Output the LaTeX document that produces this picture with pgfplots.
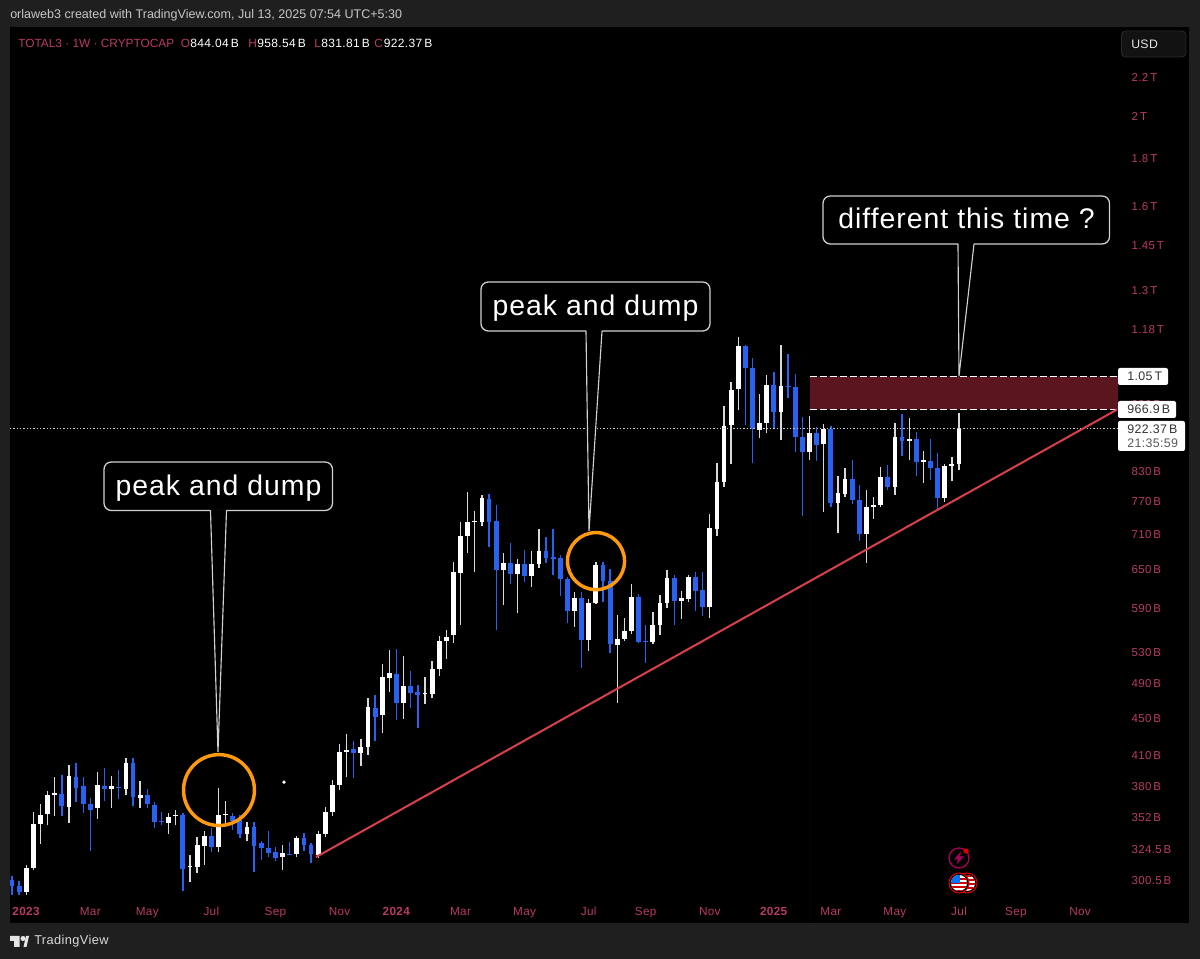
\documentclass[border=0pt]{standalone}
\usepackage{pgfplots}
\usepackage{pgfplotstable}
\usepackage{fontspec}
\setmainfont{Liberation Sans}
\newfontfamily\lsa[LetterSpace=3]{Liberation Sans}
\newfontfamily\lsb[LetterSpace=3.5]{Liberation Sans}
\pgfplotsset{compat=1.18}
\definecolor{panel}{HTML}{1F1F1F}
\definecolor{pinkt}{HTML}{B93A68}
\definecolor{candleblue}{HTML}{2962F0}
\definecolor{zone}{HTML}{5A151E}
\definecolor{trend}{HTML}{D8404C}
\definecolor{orng}{HTML}{FF9A0E}
\pgfplotstableread{
i o h l c
2 292.7 312.9 289.9 310.5
3 310.6 356.8 308.8 346.1
4 345.9 363.7 329.4 354.1
5 354.7 375.6 345 371.9
6 371.6 389.2 353 373.8
8 361 400.6 346.7 389.8
12 360 394 350.7 381.2
14 377.2 390 359.7 380
16 377.5 407.3 372.2 402.9
18 369.1 384.7 360 371.6
22 347.2 355.3 337.9 351.8
23 353.3 358.3 345 353.9
25 311.3 320.3 299.8 312
26 311 334.8 306.7 328.2
27 327.7 340.2 312.5 335.7
29 327.1 378.1 323.1 353.9
30 353.9 366.4 345.9 354.7
33 337.7 348.1 331.6 343.6
38 318.7 328.2 309 322.1
40 321.1 336.2 319.2 334.5
43 320.5 340 317.9 338
44 337.7 360.8 335.5 356.3
45 356.3 385.7 353.3 380.9
46 381.2 421.9 376.5 413.4
47 414 432.2 388.5 416
49 413 426.9 399.6 419.2
50 419.1 472.5 410.6 462.4
52 453 514.4 434 497.8
53 497 532.2 480.4 502.7
55 467.4 524.4 449.3 487.2
58 478 497.8 465.9 479.2
59 477.6 518.3 472.5 507.7
60 507.7 551.4 499.7 544.2
61 544.2 560.1 520.9 550.4
62 552.8 662 541.9 645.7
63 644.1 730.9 566.6 707
64 707 788.5 677.3 731.5
65 731.5 752.3 646.2 733.8
66 731.5 782 723.7 776.2
69 648.9 676.8 595.4 660.8
71 643 666.9 583.3 659.6
73 639.8 680.7 623 658.6
74 658.6 718.8 653.1 681.2
79 586.3 615.4 564.2 606.3
81 546 603.9 531.3 598.4
82 598 662 597 658
85 539.2 580.9 466.7 546.9
86 546.9 577 544.6 558.7
87 558.3 627.3 554.6 607.4
90 542.9 585.2 540.3 566.6
91 566.2 609.9 552.8 598.4
92 598.4 649.4 591.5 636.7
94 601.9 617 574.7 605.4
95 603.9 641.4 600.4 638.7
98 592 745.6 576.1 721.1
99 720 846 707 807.7
100 807.1 975.7 797.2 928.5
101 929.5 1035 844.5 1014.5
102 1016.3 1156.5 965.4 1131.9
105 918.8 1003.7 900 934.8
106 935.5 1053.4 912.6 1028.5
108 961.3 1134.6 896.2 1025
112 870.7 951 852.9 911.3
114 886.7 932.5 749.3 920.4
116 766.7 820.3 711.2 785.4
117 784.6 835.6 777.6 814.4
120 709.5 791.9 660.3 759.6
121 759.6 778.7 736.9 764.2
122 762.9 837.6 758.6 817.6
124 798.3 934.1 782 902.2
126 894 945.8 852.9 898.4
128 848.7 872.8 805.1 852.9
131 776.9 844.5 769.2 840.4
132 839.7 860.2 810 843.8
133 844.04 958.54 831.81 922.37
}\upcandles
\pgfplotstableread{
i o h l c
0 301.2 304.2 290.4 296.8
1 296.8 300.5 289.9 292.3
7 373.1 390.8 353 361.9
9 388.9 402.9 365.8 378.7
10 380.6 389.2 355.9 364
11 363.7 368.9 324 358.3
13 380 398 366.4 377.5
15 379.4 395.3 367.9 378.4
17 402.3 407.3 361.9 370.4
19 371.6 377.2 360 363.7
20 362.8 365.8 342.5 348.1
21 348.7 356.5 345.3 347.8
24 353.9 355.9 293.2 309.8
28 336 342.5 323.1 327.1
31 353.3 355.9 341 348.7
32 349.6 353.9 334 337.7
34 343.3 347.6 307.5 327.4
35 330.2 331.8 316.6 325.9
36 326.4 340.2 318.7 322.3
37 322.6 327.1 315.8 317.9
39 321.5 331.2 320.3 320.8
41 334.5 338.2 324 328.5
42 328.2 329.9 314.2 321.1
48 416.8 424.8 387.6 412.7
51 461.6 476.4 425.1 451.4
54 501.9 533.9 447.8 467.4
56 487.2 505.2 461.6 479.2
57 480 488 439 476.4
67 774.3 783.4 688 732
68 732.8 762.9 559.7 649.4
70 660.3 694.9 627.3 643
72 659.1 682.4 630.9 639.8
75 680.7 704.2 661.3 669
76 670.7 718.3 641.4 667.9
77 668.6 674 609.3 635.1
78 635.1 638.7 569 586.3
80 606.3 615.4 509.7 546
83 657 662.5 600.4 632
84 632 651.5 528.3 541
88 608.3 611.9 541.5 543.3
89 544.6 566.6 516.1 543.3
93 636.7 641.4 566.2 601.4
96 638.2 646.7 586.7 617
97 617.6 645.7 579.6 592
103 1131.9 1134.6 930.2 1071.9
104 1071 1097.3 847.2 920.4
107 1028.5 1062.2 922.6 961.3
109 1026 1108.9 995.3 1022
110 1022 1056 869.4 902.2
111 902.9 948.1 743 870.7
113 911.3 926.2 850.8 885.1
115 921 928.5 759.6 766.1
118 813.8 852.3 764.8 772.4
119 773 801.7 698.3 709.5
123 817.6 842.4 791.9 797.7
125 902.9 957.3 861.4 894
127 898.4 914.9 820.3 848.7
129 850.2 898.4 811.6 836.8
130 836.8 868.6 753.6 776.9
}\downcandles
\begin{document}
\begin{tikzpicture}
\fill[panel] (0,0) rectangle (900pt,719.25pt);
\begin{axis}[
  at={(7.5pt,27pt)}, anchor=south west,
  scale only axis, width=884.25pt, height=672pt,
  axis background/.style={fill=black},
  axis line style={draw=none},
  major tick length=0pt, tick style={draw=none},
  xmin=-0.28, xmax=165.3,
  ymode=log, ymin=270.8, ymax=2496,
  ytick={300.5,324.5,352,380,410,450,490,530,590,650,710,770,830,980,1180,1300,1450,1600,1800,2000,2200},
  yticklabels={300.5\,B,324.5\,B,352\,B,380\,B,410\,B,450\,B,490\,B,530\,B,590\,B,650\,B,710\,B,770\,B,830\,B,980\,B,1.18\,T,1.3\,T,1.45\,T,1.6\,T,1.8\,T,2\,T,2.2\,T},
  yminorticks=false,
  yticklabel pos=right,
  yticklabel style={anchor=west, xshift=-46.5pt, text=pinkt, font=\lsa\fontsize{8.6}{10}\selectfont},
  xtick={2,11,19,28,37,46,54,63,72,81,89,98,107,115,124,133,141,150},
  xticklabels={\textbf{2023},Mar,May,Jul,Sep,Nov,\textbf{2024},Mar,May,Jul,Sep,Nov,\textbf{2025},Mar,May,Jul,Sep,Nov},
  xticklabel style={anchor=center, text height=7pt, text depth=2pt, yshift=8.2pt, text=pinkt, font=\lsa\fontsize{8.8}{10}\selectfont},
  clip=true,
]
% wicks and bodies
\addplot[draw=none, no markers, error bars/.cd, y dir=plus, y explicit, error mark=none,
  error bar style={draw=candleblue, line width=1pt}]
  table[x=i, y=l, y error plus expr=\thisrow{h}-\thisrow{l}] {\downcandles};
\addplot[draw=none, no markers, error bars/.cd, y dir=plus, y explicit, error mark=none,
  error bar style={draw=candleblue, line width=3.6pt}]
  table[x=i, y=c, y error plus expr=\thisrow{o}-\thisrow{c}] {\downcandles};
\addplot[draw=none, no markers, error bars/.cd, y dir=plus, y explicit, error mark=none,
  error bar style={draw=white!85!black, line width=1pt}]
  table[x=i, y=l, y error plus expr=\thisrow{h}-\thisrow{l}] {\upcandles};
\addplot[draw=none, no markers, error bars/.cd, y dir=plus, y explicit, error mark=none,
  error bar style={draw=white, line width=3.6pt}]
  table[x=i, y=o, y error plus expr=\thisrow{c}-\thisrow{o}] {\upcandles};
% zone
\addplot[fill=zone, draw=none] coordinates {(112.08,966.9) (155.3,966.9) (155.3,1050) (112.08,1050)} \closedcycle;
\addplot[white, line width=0.8pt, dash pattern=on 5pt off 2.5pt] coordinates {(112.08,1050) (155.3,1050)};
\addplot[white, line width=0.8pt, dash pattern=on 5pt off 2.5pt] coordinates {(112.08,966.9) (155.3,966.9)};
% last price line
\addplot[white!80!black, line width=0.7pt, dash pattern=on 0.9pt off 1.6pt] coordinates {(-0.28,922.37) (155.3,922.37)};
% trend line
\addplot[trend, line width=1.5pt] coordinates {(42.7,318.9) (155.2,966.9)};
% stray dot
\addplot[only marks, mark=*, mark size=1.1pt, white] coordinates {(38.2,384)};
\draw[orng, line width=2.6pt] (axis cs:29.07,376.5) circle [radius=26.6pt];
\draw[orng, line width=2.6pt] (axis cs:82.02,664.1) circle [radius=21.4pt];
\end{axis}
\begin{scope}[x=0.75pt,y=-0.75pt,shift={(0pt,719.25pt)}]
% header
\node[anchor=west, inner sep=0, text=white!78!black, font=\fontsize{9.4}{11}\selectfont] at (10,15.5) {orlaweb3 created with TradingView.com, Jul 13, 2025 07:54 UTC+5:30};
\tikzset{lg/.style={anchor=west, inner sep=0, font=\fontsize{8.9}{10}\selectfont}}
\tikzset{lgv/.style={anchor=west, inner sep=0, font=\lsa\fontsize{9}{10}\selectfont}}
\node[lg, text=pinkt] at (18,43) {TOTAL3 · 1W · CRYPTOCAP};
\node[lg, text=pinkt] at (180.5,43) {O};
\node[lgv, text=white] at (190,43) {844.04\,B};
\node[lg, text=pinkt] at (248,43) {H};
\node[lgv, text=white] at (257,43) {958.54\,B};
\node[lg, text=pinkt] at (314,43) {L};
\node[lgv, text=white] at (321,43) {831.81\,B};
\node[lg, text=pinkt] at (374,43) {C};
\node[lgv, text=white] at (383.5,43) {922.37\,B};
% USD
\draw[white!16!black, fill=white!7!black, rounded corners=3pt, line width=0.7pt] (1121.5,31) rectangle (1186,57);
\node[anchor=west, text=white!90!black, inner sep=0, font=\lsa\fontsize{9.2}{10}\selectfont] at (1131,44) {USD};
% price flags
\tikzset{fl/.style={anchor=west, inner sep=0, text=black!80, font=\lsa\fontsize{9.3}{11}\selectfont}}
\fill[white, rounded corners=1.5pt] (1118,368) rectangle (1168,385);
\node[fl] at (1127,376.5) {1.05\,T};
\fill[white, rounded corners=1.5pt] (1118,401) rectangle (1176,418);
\node[fl] at (1127,409.5) {966.9\,B};
\fill[white, rounded corners=1.5pt] (1118,421) rectangle (1185,451);
\node[fl] at (1127,429) {922.37\,B};
\node[fl, text=black!65] at (1127,443) {21:35:59};
% callouts
\tikzset{co/.style={white!82!black, fill=black, line width=0.95pt, rounded corners=5.5pt}}
\tikzset{cot/.style={inner sep=0, text=white, font=\lsb\fontsize{21.3}{26}\selectfont}}
\draw[co] (104,462) rectangle (332.5,510.5);
\fill[black] (210.5,509.5) -- (218,752) -- (226.5,509.5) -- cycle;
\draw[white!82!black, line width=0.85pt] (210.5,510.5) -- (218,752) -- (226.5,510.5);
\node[cot] at (218.5,488) {peak and dump};
\draw[co] (481,282) rectangle (710,331);
\fill[black] (586,330) -- (589,531) -- (602,330) -- cycle;
\draw[white!82!black, line width=0.85pt] (586,331) -- (589,531) -- (602,331);
\node[cot] at (595.5,308) {peak and dump};
\draw[co] (823,196) rectangle (1109.5,244);
\fill[black] (958,243) -- (959,376) -- (974,243) -- cycle;
\draw[white!82!black, line width=0.85pt] (958,244) -- (959,376) -- (974,244);
\node[cot] at (966.5,218.5) {different this time ?};
% lightning icon
\draw[purple!60!violet, line width=1pt] (959,858) circle [radius=7.5pt];
\fill[purple!60!violet] (961,851.5) -- (954,859.5) -- (958,859.5) -- (956.5,864.5) -- (964,856.5) -- (960,856.5) -- cycle;
\fill[red!85!black] (966,851) circle [radius=2pt];
% calendar flag icon
\fill[black] (967,883) circle [radius=7.5pt];
\draw[red!85!black, line width=0.8pt] (967,883) circle [radius=7.5pt];
\begin{scope}
\clip (967,883) circle [radius=6pt];
\fill[white] (958,874) rectangle (976,892);
\foreach \yy in {875.5,879.5,883.5,887.5} {\fill[red!80!black] (958,\yy) rectangle (976,\yy+2);}
\end{scope}
\fill[black] (959,883) circle [radius=7.5pt];
\draw[red!85!black, line width=0.8pt] (959,883) circle [radius=7.5pt];
\begin{scope}
\clip (959,883) circle [radius=6pt];
\fill[white] (950,874) rectangle (968,892);
\foreach \yy in {878,882,886,890} {\fill[red!80!black] (950,\yy) rectangle (968,\yy+2);}
\fill[blue!55!cyan] (950,874) rectangle (960,883);
\end{scope}
% TradingView logo
\fill[white!90!black] (10,936) -- (19.5,936) -- (19.5,947) -- (14,947) -- (14,941) -- (10,941) -- cycle;
\fill[white!90!black] (23,938.5) circle [radius=1.9pt];
\fill[white!90!black] (23.5,947) -- (26,936) -- (29,936) -- (26.5,947) -- cycle;
\node[anchor=west, inner sep=0, text=white!85!black, font=\lsa\fontsize{9.6}{11}\selectfont] at (34,941.5) {TradingView};
\end{scope}
\end{tikzpicture}
\end{document}
